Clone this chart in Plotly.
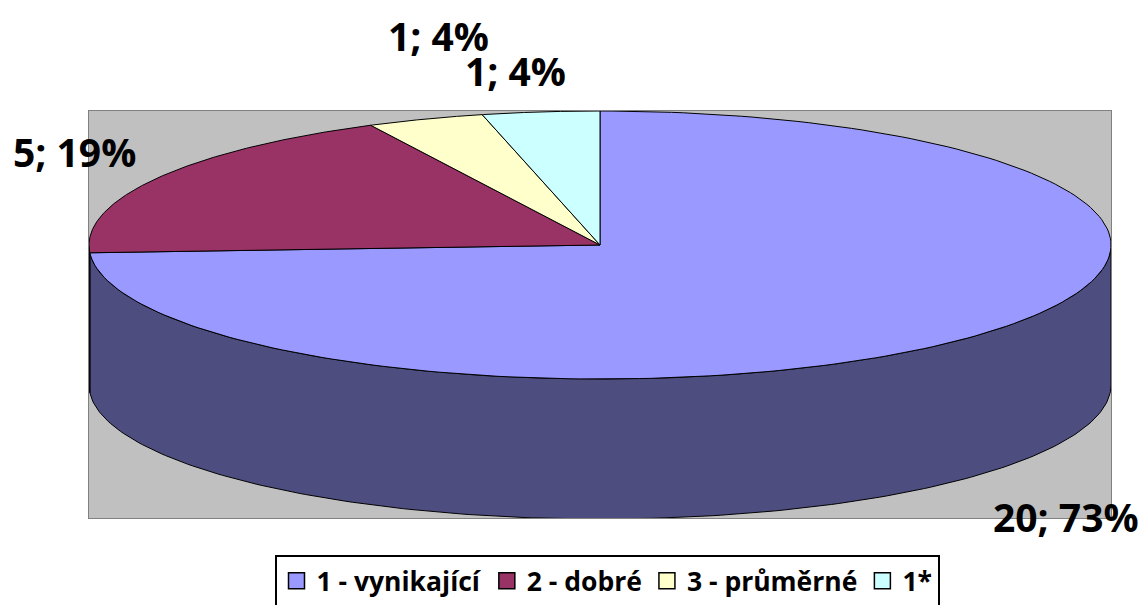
import numpy as np
import plotly.graph_objects as go

# ---- data ----
categories = ["1 - vynikající", "2 - dobré", "3 - průměrné", "1*"]
values = [20, 5, 1, 1]
label_texts = ["20; 73%", "5; 19%", "1; 4%", "1; 4%"]

# ---- styles ----
top_colors = ["#9999FF", "#993366", "#FFFFCC", "#CCFFFF"]
side_colors = ["#4D4D80", "#4D1A33", "#808066", "#668080"]
FONT = "Open Sans"

# page layout (browser adds 8px body margin)
PAGE_OFF = 8
W, H = 1147 - PAGE_OFF, 605 - PAGE_OFF
PLOT_L, PLOT_R, PLOT_T, PLOT_B = 89, 1111, 111, 518  # page pixels

# geometry (axis units = screen pixels, origin at pie centre)
RX, RY, DEPTH = 511, 134, 140
# label centres in page pixels
label_px = [(1066, 516), (74, 151), (438, 35), (515, 70)]

fig = go.Figure()

total = float(sum(values))
bounds = np.concatenate([[0.0], np.cumsum(values) / total * 360.0])


def arc(a1, a2, n=200):
    t = np.radians(np.linspace(a1, a2, n))
    return RX * np.sin(t), RY * np.cos(t)

# side walls (front half only: 90..270 deg clockwise from 12 o'clock)
for i in range(len(values)):
    a1, a2 = max(bounds[i], 90.0), min(bounds[i + 1], 270.0)
    if a2 <= a1:
        continue
    xt, yt = arc(a1, a2)
    xs = np.concatenate([xt, xt[::-1], xt[:1]])
    ys = np.concatenate([yt, yt[::-1] - DEPTH, yt[:1]])
    fig.add_trace(go.Scatter(x=xs, y=ys, mode="lines", fill="toself",
                             fillcolor=side_colors[i],
                             line=dict(color="black", width=1),
                             hoverinfo="skip", showlegend=False))

# top faces
for i in range(len(values)):
    xt, yt = arc(bounds[i], bounds[i + 1])
    xs = np.concatenate([[0], xt, [0]])
    ys = np.concatenate([[0], yt, [0]])
    fig.add_trace(go.Scatter(x=xs, y=ys, mode="lines", fill="toself",
                             fillcolor=top_colors[i],
                             line=dict(color="black", width=1),
                             hoverinfo="skip", showlegend=False))

# legend entries
for i, c in enumerate(categories):
    fig.add_trace(go.Scatter(x=[None], y=[None], name=c, mode="markers",
                             marker=dict(symbol="square", size=16,
                                         color=top_colors[i],
                                         line=dict(color="black", width=1.5)),
                             showlegend=True))

pw = PLOT_R - PLOT_L
ph = PLOT_B - PLOT_T
for (px, py), t in zip(label_px, label_texts):
    fig.add_annotation(x=(px - PLOT_L) / pw, y=(PLOT_B - py) / ph,
                       xref="paper", yref="paper", text="<b>" + t + "</b>",
                       showarrow=False, xanchor="center", yanchor="middle",
                       font=dict(family=FONT, size=39, color="black"))

fig.update_layout(
    width=W, height=H,
    margin=dict(l=PLOT_L - PAGE_OFF, r=1147 - PLOT_R,
                t=PLOT_T - PAGE_OFF, b=605 - PLOT_B, autoexpand=False),
    paper_bgcolor="white",
    plot_bgcolor="#C0C0C0",
    xaxis=dict(range=[-511, 511], type="linear", showgrid=False,
               zeroline=False, showticklabels=False, ticks="",
               showline=True, mirror=True, linecolor="#808080", linewidth=1),
    yaxis=dict(range=[-273, 134], type="linear", showgrid=False,
               zeroline=False, showticklabels=False, ticks="",
               showline=True, mirror=True, linecolor="#808080", linewidth=1),
    showlegend=True,
    legend=dict(orientation="h", xref="container", yref="container",
                x=(607 - PAGE_OFF) / W, xanchor="center",
                y=1 - (555 - PAGE_OFF) / H, yanchor="top",
                bordercolor="black", borderwidth=2, bgcolor="white",
                itemsizing="trace",
                font=dict(family=FONT, size=26.5, color="black", weight="bold")),
    hovermode=False,
)

fig.write_html("out.html")
